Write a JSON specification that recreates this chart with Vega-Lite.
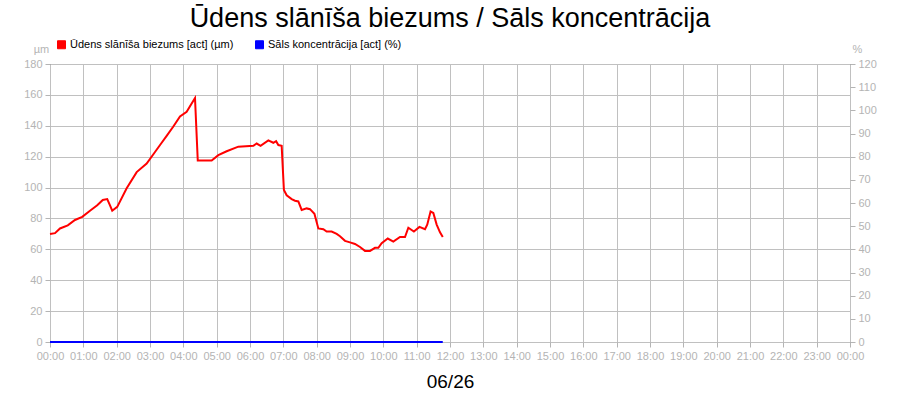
{
  "$schema": "https://vega.github.io/schema/vega-lite/v6.json",
  "width": 800,
  "height": 278,
  "autosize": {"type": "none"},
  "padding": {"left": 50, "top": 64, "right": 50, "bottom": 58},
  "background": "white",
  "title": {
    "text": "Ūdens slānīša biezums / Sāls koncentrācija",
    "font": "Liberation Sans",
    "fontSize": 27,
    "fontWeight": "normal",
    "color": "black",
    "anchor": "middle",
    "offset": 6
  },
  "datasets": {
    "water": [
      {"h": 0, "v": 70}, {"h": 0.15, "v": 70.5}, {"h": 0.3, "v": 73.5}, {"h": 0.533, "v": 75.5},
      {"h": 0.75, "v": 79}, {"h": 0.967, "v": 81}, {"h": 1.2, "v": 85}, {"h": 1.417, "v": 88.5},
      {"h": 1.583, "v": 92}, {"h": 1.717, "v": 92.5}, {"h": 1.8, "v": 88.5}, {"h": 1.867, "v": 85},
      {"h": 2.017, "v": 87.5}, {"h": 2.3, "v": 99.5}, {"h": 2.6, "v": 110}, {"h": 2.9, "v": 115.5},
      {"h": 3.15, "v": 123}, {"h": 3.35, "v": 129}, {"h": 3.5, "v": 133.5}, {"h": 3.7, "v": 139.5},
      {"h": 3.9, "v": 146}, {"h": 4.1, "v": 149}, {"h": 4.25, "v": 154.5}, {"h": 4.35, "v": 158},
      {"h": 4.433, "v": 117.5}, {"h": 4.85, "v": 117.5}, {"h": 5.05, "v": 121}, {"h": 5.3, "v": 123.5},
      {"h": 5.65, "v": 126.5}, {"h": 6.1, "v": 127}, {"h": 6.2, "v": 128.5}, {"h": 6.317, "v": 127},
      {"h": 6.55, "v": 130.5}, {"h": 6.7, "v": 129}, {"h": 6.783, "v": 130}, {"h": 6.85, "v": 127.5},
      {"h": 6.95, "v": 127}, {"h": 7.017, "v": 98.5}, {"h": 7.1, "v": 95}, {"h": 7.25, "v": 92.5},
      {"h": 7.35, "v": 91.5}, {"h": 7.45, "v": 91}, {"h": 7.55, "v": 85.5}, {"h": 7.7, "v": 86.5},
      {"h": 7.8, "v": 86}, {"h": 7.933, "v": 83}, {"h": 8.05, "v": 73.5}, {"h": 8.2, "v": 73},
      {"h": 8.3, "v": 71.5}, {"h": 8.45, "v": 71.5}, {"h": 8.6, "v": 70}, {"h": 8.7, "v": 68.5},
      {"h": 8.85, "v": 65.5}, {"h": 9, "v": 64.5}, {"h": 9.15, "v": 63.5}, {"h": 9.3, "v": 61.5},
      {"h": 9.45, "v": 59}, {"h": 9.6, "v": 59}, {"h": 9.75, "v": 61}, {"h": 9.85, "v": 61},
      {"h": 9.95, "v": 64}, {"h": 10.133, "v": 67}, {"h": 10.3, "v": 65}, {"h": 10.5, "v": 68},
      {"h": 10.65, "v": 68}, {"h": 10.75, "v": 74}, {"h": 10.917, "v": 71.5}, {"h": 11.083, "v": 74.5},
      {"h": 11.25, "v": 73}, {"h": 11.317, "v": 76}, {"h": 11.417, "v": 84.5}, {"h": 11.5, "v": 83.5},
      {"h": 11.6, "v": 76}, {"h": 11.7, "v": 71}, {"h": 11.783, "v": 68}
    ],
    "salt": [
      {"h": 0, "v": 0}, {"h": 11.783, "v": 0}
    ]
  },
  "encoding": {
    "x": {
      "field": "h",
      "type": "quantitative",
      "scale": {"domain": [0, 24], "nice": false, "zero": false},
      "axis": {
        "title": "06/26",
        "titleFont": "Liberation Sans",
        "titleFontSize": 19,
        "titleFontWeight": "normal",
        "titleColor": "black",
        "titleX": 400,
        "titleY": 39,
        "titleAlign": "center",
        "titleBaseline": "middle",
        "values": [0, 1, 2, 3, 4, 5, 6, 7, 8, 9, 10, 11, 12, 13, 14, 15, 16, 17, 18, 19, 20, 21, 22, 23, 24],
        "labelExpr": "(datum.value % 24 < 10 ? '0' : '') + (datum.value % 24) + ':00'",
        "labelOverlap": false,
        "labelFlush": false,
        "labelFont": "Liberation Sans",
        "labelFontSize": 11,
        "labelColor": "#b4b4b4",
        "labelPadding": 3,
        "tickColor": "#b4b4b4",
        "tickSize": 5,
        "grid": true,
        "gridColor": "#c0c0c0",
        "domain": false
      }
    }
  },
  "layer": [
    {
      "data": {"name": "water"},
      "mark": {"type": "line", "strokeWidth": 2},
      "encoding": {
        "y": {
          "field": "v",
          "type": "quantitative",
          "scale": {"domain": [0, 180], "nice": false},
          "axis": {
            "title": "µm",
            "titleAngle": 0,
            "titleX": -9,
            "titleY": -15,
            "titleAlign": "center",
            "titleBaseline": "middle",
            "titleFont": "Liberation Sans",
            "titleFontSize": 11,
            "titleFontWeight": "normal",
            "titleColor": "#b4b4b4",
            "values": [0, 20, 40, 60, 80, 100, 120, 140, 160, 180],
            "labelFont": "Liberation Sans",
            "labelFontSize": 11,
            "labelColor": "#b4b4b4",
            "labelPadding": 3,
            "tickColor": "#b4b4b4",
            "tickSize": 5,
            "grid": true,
            "gridColor": "#c0c0c0",
            "domain": false
          }
        },
        "color": {
          "datum": "Ūdens slānīša biezums [act] (µm)",
          "type": "nominal",
          "scale": {
            "domain": ["Ūdens slānīša biezums [act] (µm)", "Sāls koncentrācija [act] (%)"],
            "range": ["#ff0000", "#0000ff"]
          },
          "legend": {
            "title": null,
            "orient": "none",
            "direction": "horizontal",
            "legendX": 6,
            "legendY": -25,
            "symbolType": "square",
            "symbolSize": 64,
            "symbolStrokeWidth": 1,
            "labelFont": "Liberation Sans",
            "labelFontSize": 11,
            "labelColor": "black",
            "labelLimit": 0,
            "labelOffset": 3,
            "columnPadding": 19,
            "encode": {
              "symbols": {
                "update": {
                  "fill": {"scale": "color", "field": "value"},
                  "stroke": {"value": "black"},
                  "strokeWidth": {"value": 1}
                }
              }
            }
          }
        }
      }
    },
    {
      "data": {"name": "salt"},
      "mark": {"type": "line", "strokeWidth": 2},
      "encoding": {
        "y": {
          "field": "v",
          "type": "quantitative",
          "scale": {"domain": [0, 120], "nice": false},
          "axis": {
            "orient": "right",
            "title": "%",
            "titleAngle": 0,
            "titleX": 7,
            "titleY": -15,
            "titleAlign": "center",
            "titleBaseline": "middle",
            "titleFont": "Liberation Sans",
            "titleFontSize": 11,
            "titleFontWeight": "normal",
            "titleColor": "#b4b4b4",
            "values": [0, 10, 20, 30, 40, 50, 60, 70, 80, 90, 100, 110, 120],
            "labelFont": "Liberation Sans",
            "labelFontSize": 11,
            "labelColor": "#b4b4b4",
            "labelPadding": 3,
            "tickColor": "#b4b4b4",
            "tickSize": 5,
            "grid": false,
            "domain": false
          }
        },
        "color": {"datum": "Sāls koncentrācija [act] (%)", "type": "nominal"}
      }
    }
  ],
  "resolve": {"scale": {"y": "independent"}},
  "config": {
    "view": {"stroke": "black", "strokeWidth": 1},
    "font": "Liberation Sans"
  }
}
